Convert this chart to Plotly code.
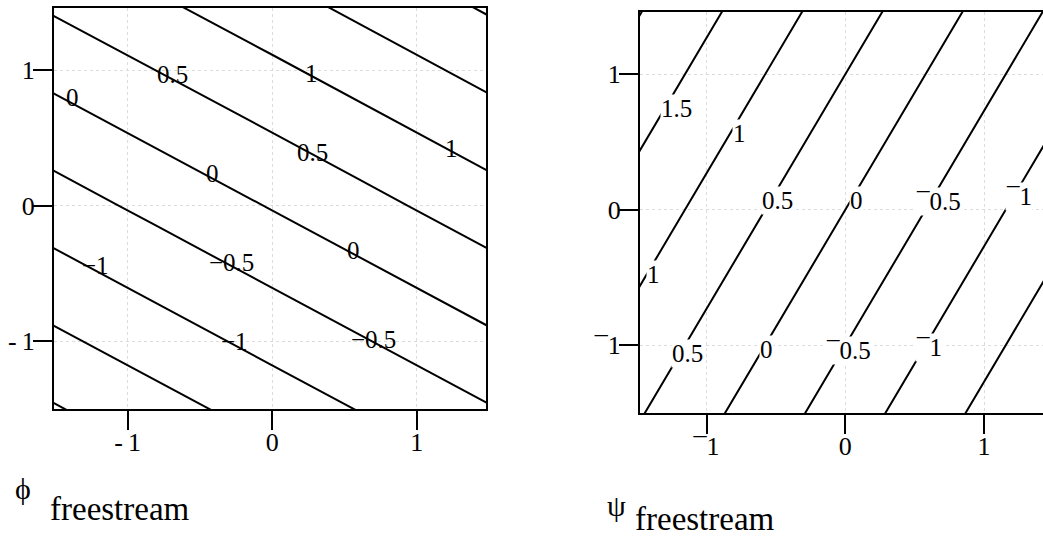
import plotly.graph_objects as go

# Sample grid for the two freestream fields
grid_x = [-2.0, 0.0, 2.0]
grid_y = [-2.0, 0.0, 2.0]

# velocity potential, rows follow grid_y, columns follow grid_x
phi_vals = [
    [-2.72, -1.72, -0.72],
    [-0.97, 0.03, 1.03],
    [0.78, 1.77, 2.77],
]
# stream function, same layout
psi_vals = [
    [0.73, -1.00, -2.73],
    [1.73, 0.00, -1.73],
    [2.73, 1.00, -0.73],
]

level_start, level_end, level_step = -2.0, 2.0, 0.5

# contour labels: level value and where it sits
phi_lab_level = [0.5, 1, 0, 0.5, 1, 0, 0, -1, -0.5, -1, -0.5]
phi_lab_x = [-0.69, 0.27, -1.38, 0.28, 1.24, -0.41, 0.56, -1.22, -0.28, -0.26, 0.70]
phi_lab_y = [0.97, 0.98, 0.80, 0.39, 0.42, 0.24, -0.33, -0.44, -0.42, -1.00, -0.99]

psi_lab_level = [1.5, 1, 0.5, 0, -0.5, -1, 1, 0.5, 0, -0.5, -1]
psi_lab_x = [-1.22, -0.76, -0.49, 0.08, 0.67, 1.25, -1.38, -1.14, -0.57, 0.02, 0.60]
psi_lab_y = [0.75, 0.56, 0.07, 0.07, 0.06, 0.10, -0.48, -1.06, -1.03, -1.04, -1.02]

tick_vals = [-1, 0, 1]
phi_tick_text = ["-\u20091", "0", "1"]
psi_tick_text = ["\u00af1", "0", "1"]

SERIF = "Liberation Serif"
W, H = 1043, 537


def fmt(v, minus):
    s = f"{abs(v):g}"
    return minus + s if v < 0 else s


fig = go.Figure()

contour_common = dict(
    x=grid_x,
    y=grid_y,
    contours=dict(start=level_start, end=level_end, size=level_step,
                  coloring="none", showlabels=False),
    line=dict(color="black", width=2),
    showscale=False,
    hoverinfo="skip",
)

fig.add_trace(go.Contour(z=phi_vals, xaxis="x", yaxis="y", **contour_common))
fig.add_trace(go.Contour(z=psi_vals, xaxis="x2", yaxis="y2", **contour_common))

axis_common = dict(
    tickvals=tick_vals,
    ticks="outside",
    ticklen=19,
    tickwidth=2,
    tickcolor="black",
    showline=True,
    linewidth=2,
    linecolor="black",
    showgrid=True,
    gridcolor="#dcdcdc",
    griddash="dot",
    gridwidth=1,
    zeroline=False,
    tickfont=dict(family=SERIF, size=26, color="black"),
    fixedrange=True,
)

fig.update_layout(
    width=W,
    height=H,
    margin=dict(l=0, r=0, t=0, b=0),
    paper_bgcolor="white",
    plot_bgcolor="white",
    showlegend=False,
    xaxis=dict(domain=[54 / W, 486 / W], range=[-1.51, 1.48], anchor="y",
               mirror=True, ticktext=phi_tick_text, ticklabelstandoff=-10,
               **axis_common),
    yaxis=dict(domain=[1 - 409 / H, 1 - 8 / H], range=[-1.5, 1.46], anchor="x",
               mirror=True, ticktext=phi_tick_text, ticklabelstandoff=-7,
               **axis_common),
    xaxis2=dict(domain=[640 / W, 1.0], range=[-1.48, 1.425], anchor="y2",
                mirror=True, ticktext=psi_tick_text, ticklabelstandoff=-10,
                **axis_common),
    yaxis2=dict(domain=[1 - 413 / H, 1 - 12 / H], range=[-1.5, 1.46], anchor="x2",
                mirror=False, ticktext=psi_tick_text, ticklabelstandoff=-7,
                **axis_common),
)

annotations = []
for lv, lx, ly in zip(phi_lab_level, phi_lab_x, phi_lab_y):
    annotations.append(dict(
        x=lx, y=ly, xref="x", yref="y", text=fmt(lv, "\u2212"),
        showarrow=False, font=dict(family=SERIF, size=25, color="black"),
    ))
for lv, lx, ly in zip(psi_lab_level, psi_lab_x, psi_lab_y):
    annotations.append(dict(
        x=lx, y=ly, xref="x2", yref="y2", text=fmt(lv, "\u00af"),
        showarrow=False, bgcolor="white", borderpad=0,
        font=dict(family=SERIF, size=25, color="black"),
    ))

# axis captions under each panel
annotations += [
    dict(x=23 / W, y=1 - 488 / H, xref="paper", yref="paper", text="\u03d5",
         showarrow=False, xanchor="center", yanchor="middle",
         font=dict(family=SERIF, size=30, color="black")),
    dict(x=48 / W, y=1 - 509 / H, xref="paper", yref="paper", text="freestream",
         showarrow=False, xanchor="left", yanchor="middle",
         font=dict(family=SERIF, size=33, color="black")),
    dict(x=616 / W, y=1 - 505 / H, xref="paper", yref="paper", text="\u03c8",
         showarrow=False, xanchor="center", yanchor="middle",
         font=dict(family=SERIF, size=30, color="black")),
    dict(x=633 / W, y=1 - 519 / H, xref="paper", yref="paper", text="freestream",
         showarrow=False, xanchor="left", yanchor="middle",
         font=dict(family=SERIF, size=33, color="black")),
]
fig.update_layout(annotations=annotations)

fig.write_html("out.html")
